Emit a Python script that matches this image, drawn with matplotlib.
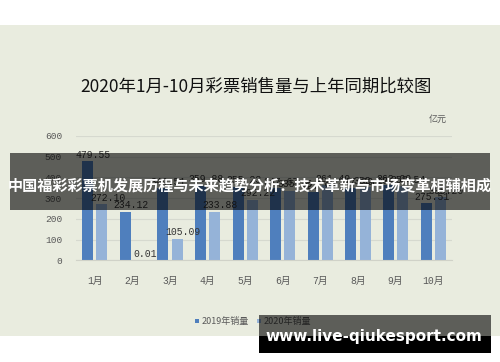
import matplotlib
matplotlib.use("Agg")
import matplotlib.pyplot as plt
import numpy as np
from matplotlib.patches import Rectangle

plt.rcParams["font.family"] = ["Noto Sans CJK SC", "DejaVu Sans"]

# data (亿元)
months = ["1月", "2月", "3月", "4月", "5月", "6月", "7月", "8月", "9月", "10月"]
sales_2019 = [479.55, 234.12, 349.51, 359.88, 355.23, 347.67, 327.94, 347.79, 363.99, 275.51]
sales_2020 = [272.10, 0.01, 105.09, 233.88, 292.22, 335.35, 361.49, 352.10, 358.54, 305.20]
series_names = ["2019年销量", "2020年销量"]
y_ticks = [0, 100, 200, 300, 400, 500, 600]

title = "2020年1月-10月彩票销售量与上年同期比较图"
banner = "中国福彩彩票机发展历程与未来趋势分析：技术革新与市场变革相辅相成"
watermark = "www.live-qiukesport.com"

W, H = 500, 362
BG = "#e9ecdf"
C19 = "#4f7fbd"
C20 = "#95b3d8"
GREY = "#595959"
MONO = ["Liberation Mono", "Noto Sans CJK SC"]


def fx(x):
    return x / W


def fy(y):
    return 1 - y / H


fig = plt.figure(figsize=(W / 100, H / 100), dpi=100, facecolor="white")

# chart background panel
fig.add_artist(Rectangle((0, fy(336)), 1, (336 - 25) / H, transform=fig.transFigure,
                         facecolor=BG, edgecolor="none", zorder=-10))

ax = fig.add_axes([fx(76), fy(260.3), fx(452) - fx(76), (260.3 - 136) / H])
ax.set_facecolor("none")

x = np.arange(len(months))
w = 0.29
b1 = ax.bar(x - 0.19, sales_2019, w, color=C19, label=series_names[0], zorder=2)
b2 = ax.bar(x + 0.19, sales_2020, w, color=C20, label=series_names[1], zorder=2)

for bars, vals in ((b1, sales_2019), (b2, sales_2020)):
    for r, v in zip(bars, vals):
        ax.annotate(f"{v:.2f}", (r.get_x() + r.get_width() / 2, v), xytext=(4, 1),
                    textcoords="offset points", ha="center", va="bottom",
                    fontsize=7, family=MONO, color="#333333", zorder=3)

ax.set_xlim(-0.5, len(months) - 0.5)
ax.set_ylim(0, 600)
ax.set_yticks(y_ticks)
ax.set_yticklabels([str(t) for t in y_ticks], family=MONO, fontsize=6.8, color=GREY)
ax.set_xticks(x)
ax.set_xticklabels(months, family=MONO, fontsize=7, color=GREY)
ax.tick_params(length=0, pad=10)
ax.tick_params(axis="x", pad=11)
ax.grid(axis="y", color="#d6d9cf", linewidth=0.8, zorder=0)
for s in ["top", "right", "left"]:
    ax.spines[s].set_visible(False)
ax.spines["bottom"].set_color("#d0d2c8")
ax.spines["bottom"].set_linewidth(0.8)

fig.text(fx(256), fy(87), title, ha="center", va="center", fontsize=12.5, color="#111111")
fig.text(fx(438), fy(119.5), "亿元", ha="center", va="center", fontsize=6.5, color=GREY)

fig.legend(handles=[b1, b2], loc="center", bbox_to_anchor=(fx(253), fy(321.7)), ncol=2,
           frameon=False, fontsize=6.5, handlelength=0.45, handleheight=0.45,
           handletextpad=0.25, columnspacing=0.9, labelcolor=GREY)

# dark banner across the middle
fig.add_artist(Rectangle((fx(10), fy(210)), fx(490) - fx(10), (210 - 153) / H,
                         transform=fig.transFigure, facecolor="black", alpha=0.6,
                         edgecolor="none", zorder=20))
fig.text(fx(250), fy(185), banner, ha="center", va="center", fontsize=10.9,
         fontweight="bold", color="white", zorder=21)

# watermark box bottom right
fig.add_artist(Rectangle((fx(259), fy(336)), fx(491) - fx(259), (336 - 315) / H,
                         transform=fig.transFigure, facecolor="black", alpha=0.6,
                         edgecolor="none", zorder=20))
fig.add_artist(Rectangle((fx(259), fy(353)), fx(491) - fx(259), (353 - 336) / H,
                         transform=fig.transFigure, facecolor="black",
                         edgecolor="none", zorder=20))
fig.text(fx(374), fy(336), watermark, ha="center", va="center", fontsize=11,
         fontweight="bold", color="white", family="DejaVu Sans", zorder=21)

fig.savefig("out.png", dpi=100, facecolor="white")
